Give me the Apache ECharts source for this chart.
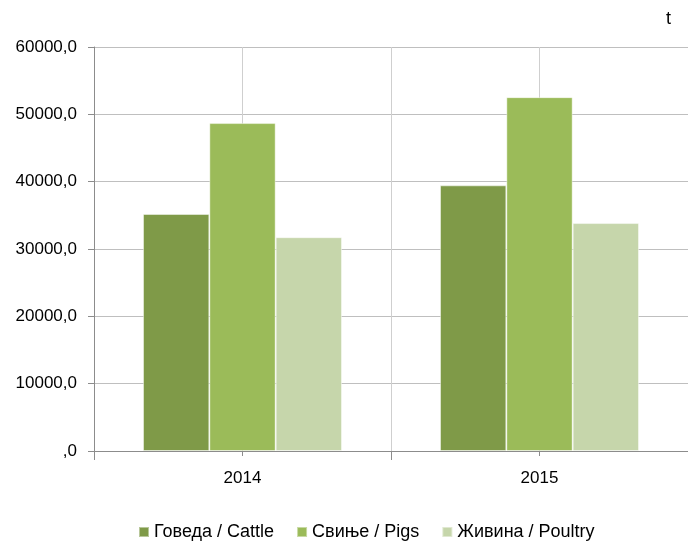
<!DOCTYPE html>
<html>
<head>
<meta charset="utf-8">
<script src="https://cdn.jsdelivr.net/npm/echarts@6/dist/echarts.min.js"></script>
<style>
  html, body { margin: 0; padding: 0; background: #fff; }
  #chart { width: 688px; height: 541px; }
</style>
</head>
<body>
<div id="chart"></div>
<script>
const years = ['2014', '2015']
const cattle = [35200, 39450]
const pigs = [48700, 52550]
const poultry = [31750, 33850]
const seriesNames = ['Говеда / Cattle', 'Свиње / Pigs', 'Живина / Poultry']
const colors = ['#7f9a48', '#9bbb59', '#c6d6ab']

const font = '"Liberation Sans", Arial, sans-serif'
const chart = echarts.init(document.getElementById('chart'))

const barStyle = (c) => ({
  color: c,
  borderColor: 'rgba(255,255,255,0.45)',
  borderWidth: 1,
})

chart.setOption({
  animation: false,
  textStyle: { fontFamily: font },
  grid: { left: 94, top: 47, width: 598, bottom: 90 },
  graphic: [
    { type: 'text', left: 666, top: 10, style: { text: 't', font: '18px ' + font, fill: '#000' } },
  ],
  legend: {
    bottom: -5,
    left: 133,
    itemWidth: 10,
    itemHeight: 10,
    itemGap: 22,
    icon: 'rect',
    textStyle: { fontSize: 18, color: '#000', fontFamily: font },
    data: seriesNames,
  },
  xAxis: [
    {
      type: 'category',
      data: years,
      axisLine: { lineStyle: { color: '#8c8c8c', width: 1 } },
      axisTick: { show: true, length: 9, lineStyle: { color: '#8c8c8c' } },
      axisLabel: { fontSize: 17, color: '#000', margin: 19 },
      splitLine: { show: false },
      z: 3,
    },
    {
      type: 'value',
      position: 'bottom',
      min: 0,
      max: 2,
      interval: 0.5,
      axisLine: { show: false },
      axisTick: { show: true, length: 5, lineStyle: { color: '#8c8c8c' } },
      axisLabel: { show: false },
      splitLine: { show: true, lineStyle: { color: '#cfcfcf', width: 1 } },
    },
  ],
  yAxis: {
    type: 'value',
    min: 0,
    max: 60000,
    interval: 10000,
    axisLine: { show: true, lineStyle: { color: '#8c8c8c' } },
    axisTick: { show: true, length: 6, lineStyle: { color: '#8c8c8c' } },
    axisLabel: {
      fontSize: 17,
      color: '#000',
      margin: 17,
      formatter: (v) => (v === 0 ? ',0' : v + ',0'),
    },
    splitLine: { show: true, lineStyle: { color: '#bfbfbf', width: 1 } },
  },
  series: [
    {
      name: seriesNames[0],
      type: 'bar',
      barGap: '0%',
      barCategoryGap: '33%',
      itemStyle: barStyle(colors[0]),
      data: cattle,
    },
    {
      name: seriesNames[1],
      type: 'bar',
      itemStyle: barStyle(colors[1]),
      data: pigs,
    },
    {
      name: seriesNames[2],
      type: 'bar',
      itemStyle: barStyle(colors[2]),
      data: poultry,
    },
  ],
})
</script>
</body>
</html>
